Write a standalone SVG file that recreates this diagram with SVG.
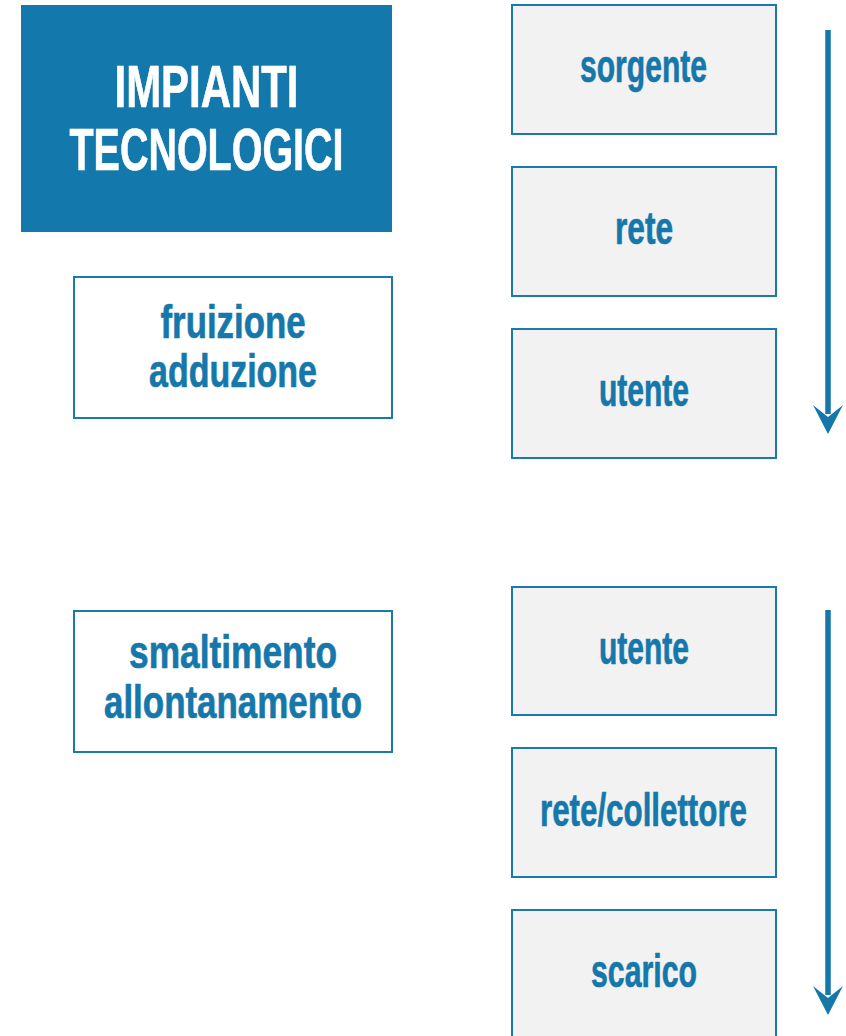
<svg xmlns="http://www.w3.org/2000/svg" width="846" height="1036" viewBox="0 0 846 1036">
<style>
.box{fill:#F2F2F2;stroke:#1A7AAE;stroke-width:2}
.wbox{fill:#FFFFFF;stroke:#1A7AAE;stroke-width:2}
.t{font-family:"Liberation Sans",Arial,sans-serif;font-weight:bold;font-size:47px;fill:#1577AA;stroke:#1577AA;stroke-width:0.7;text-anchor:middle}
.h{font-family:"Liberation Sans",Arial,sans-serif;font-weight:bold;font-size:59px;fill:#FFFFFF;stroke:#FFFFFF;stroke-width:0.7;text-anchor:middle}
.ln{stroke:#1577AA;stroke-width:5.5;fill:none}
.ah{fill:#1577AA}
</style>
<rect x="0" y="0" width="846" height="1036" fill="#FFFFFF"/>
<g id="title">
<rect x="21" y="5" width="371" height="227" fill="#1378AB"/>
<text class="h" x="206.5" y="107" textLength="184" lengthAdjust="spacingAndGlyphs">IMPIANTI</text>
<text class="h" x="206.5" y="170" textLength="274" lengthAdjust="spacingAndGlyphs">TECNOLOGICI</text>
</g>
<g id="fruizione">
<rect class="wbox" x="74" y="277" width="318" height="141"/>
<text class="t" x="233" y="338" textLength="145" lengthAdjust="spacingAndGlyphs">fruizione</text>
<text class="t" x="233" y="387" textLength="168" lengthAdjust="spacingAndGlyphs">adduzione</text>
</g>
<g id="smaltimento">
<rect class="wbox" x="74" y="611" width="318" height="141"/>
<text class="t" x="233" y="668" textLength="208" lengthAdjust="spacingAndGlyphs">smaltimento</text>
<text class="t" x="233" y="718" textLength="258" lengthAdjust="spacingAndGlyphs">allontanamento</text>
</g>
<g id="sorgente">
<rect class="box" x="512" y="5" width="264" height="129"/>
<text class="t" x="643.5" y="82" textLength="127" lengthAdjust="spacingAndGlyphs">sorgente</text>
</g>
<g id="rete">
<rect class="box" x="512" y="167" width="264" height="129"/>
<text class="t" x="644" y="244" textLength="58" lengthAdjust="spacingAndGlyphs">rete</text>
</g>
<g id="utente1">
<rect class="box" x="512" y="329" width="264" height="129"/>
<text class="t" x="644" y="406" textLength="90" lengthAdjust="spacingAndGlyphs">utente</text>
</g>
<g id="utente2">
<rect class="box" x="512" y="587" width="264" height="128"/>
<text class="t" x="644" y="664" textLength="90" lengthAdjust="spacingAndGlyphs">utente</text>
</g>
<g id="collettore">
<rect class="box" x="512" y="748" width="264" height="129"/>
<text class="t" x="643.5" y="826" textLength="207" lengthAdjust="spacingAndGlyphs">rete/collettore</text>
</g>
<g id="scarico">
<rect class="box" x="512" y="910" width="264" height="130"/>
<text class="t" x="644" y="987" textLength="106" lengthAdjust="spacingAndGlyphs">scarico</text>
</g>
<g id="connectors">
<line class="ln" x1="828" y1="30" x2="828" y2="414"/>
<polygon class="ah" points="828,434 813,405 828,417 843,405"/>
<line class="ln" x1="828" y1="610" x2="828" y2="995"/>
<polygon class="ah" points="828,1015 813,986 828,998 843,986"/>
</g>
</svg>
